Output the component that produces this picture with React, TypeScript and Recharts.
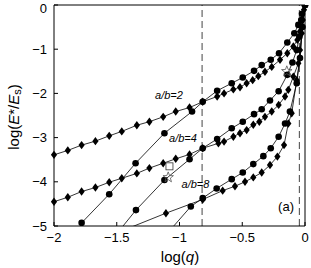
import { ComposedChart, Line, Scatter, XAxis, YAxis, ReferenceLine, ReferenceDot } from 'recharts'

const FONT = '"Liberation Sans", Arial, Helvetica, sans-serif'

const xTicks = [-2, -1.5, -1, -0.5, 0]
const yTicks = [-5, -4, -3, -2, -1, 0]
const dashedAt = [-0.82, -0.045]

// a/b=2
const d2X = [-2.0, -1.89, -1.78, -1.67, -1.56, -1.46, -1.34, -1.24, -1.13, -1.03, -0.92, -0.815, -0.7, -0.645, -0.571, -0.518, -0.465, -0.417, -0.372, -0.319, -0.265, -0.199, -0.141, -0.093, -0.061, -0.04, -0.024, -0.008, 0]
const d2Y = [-3.39, -3.29, -3.17, -3.08, -2.96, -2.86, -2.72, -2.64, -2.53, -2.41, -2.32, -2.19, -2.07, -2.0, -1.91, -1.86, -1.77, -1.7, -1.61, -1.51, -1.4, -1.24, -1.09, -0.94, -0.79, -0.6, -0.34, -0.11, 0]
const c2X = [-1.78, -1.56, -1.35, -1.12, -0.9, -0.815, -0.7, -0.584, -0.496, -0.406, -0.345, -0.273, -0.207, -0.141, -0.085, -0.053, -0.024, 0]
const c2Y = [-4.93, -4.28, -3.58, -2.9, -2.41, -2.19, -1.94, -1.77, -1.64, -1.49, -1.36, -1.24, -1.09, -0.85, -0.64, -0.45, -0.2, 0]

// a/b=4
const d4X = [-2.0, -1.89, -1.78, -1.67, -1.56, -1.46, -1.34, -1.24, -1.13, -1.03, -0.92, -0.815, -0.69, -0.645, -0.571, -0.518, -0.465, -0.412, -0.364, -0.319, -0.265, -0.21, -0.159, -0.133, -0.093, -0.053, -0.04, -0.026, -0.018, 0]
const d4Y = [-4.45, -4.35, -4.22, -4.13, -4.01, -3.92, -3.81, -3.69, -3.58, -3.48, -3.38, -3.24, -3.13, -3.09, -2.98, -2.9, -2.83, -2.71, -2.64, -2.53, -2.41, -2.26, -2.07, -1.92, -1.62, -1.32, -1.02, -0.64, -0.34, 0]
const c4X = [-1.57, -1.347, -1.12, -0.92, -0.815, -0.7, -0.584, -0.496, -0.406, -0.345, -0.279, -0.21, -0.141, -0.1, -0.066, -0.045, -0.03, 0]
const c4Y = [-5.42, -4.64, -3.96, -3.49, -3.24, -3.03, -2.79, -2.64, -2.47, -2.36, -2.16, -1.95, -1.58, -1.3, -1.02, -0.72, -0.34, 0]

// a/b=8
const d8X = [-1.45, -1.108, -0.815, -0.656, -0.558, -0.478, -0.412, -0.345, -0.279, -0.22, -0.167, -0.133, -0.106, -0.066, -0.04, -0.02, 0]
const d8Y = [-5.1, -4.71, -4.4, -4.2, -4.1, -4.0, -3.9, -3.79, -3.62, -3.43, -3.17, -2.68, -2.45, -1.7, -1.2, -0.5, 0]
const c8X = [-1.12, -0.91, -0.815, -0.704, -0.584, -0.496, -0.412, -0.332, -0.273, -0.21, -0.159, -0.12, -0.066, -0.04, -0.02, 0]
const c8Y = [-5.24, -4.56, -4.37, -4.15, -3.94, -3.79, -3.6, -3.42, -3.24, -2.98, -2.68, -2.41, -1.77, -1.2, -0.5, 0]

// extra symbols
const starX = [-1.09, -0.145]
const starY = [-3.9, -1.5]
const squareX = [-1.08]
const squareY = [-3.65]

const labels = [
  { text: 'a/b=2', x: -1.084, y: -2.04 },
  { text: 'a/b=4', x: -0.972, y: -3.02 },
  { text: 'a/b=8', x: -0.873, y: -4.05 },
]

const pts = (xs: number[], ys: number[]) => xs.map((x, i) => ({ x, y: ys[i] }))

const fmt = (v: number) => String(v).replace('-', '\u2212')

const Circle = (p: any) =>
  p.cx == null ? null : <circle key={p.key} cx={p.cx} cy={p.cy} r={3.3} fill="#000" />

const Diamond = (p: any) =>
  p.cx == null ? null : (
    <polygon
      key={p.key}
      points={`${p.cx},${p.cy - 4.2} ${p.cx + 3.1},${p.cy} ${p.cx},${p.cy + 4.2} ${p.cx - 3.1},${p.cy}`}
      fill="#000"
    />
  )

const Star = (p: any) => {
  const r1 = 5.5
  const r2 = 2.3
  let s = ''
  for (let i = 0; i < 10; i++) {
    const r = i % 2 === 0 ? r1 : r2
    const a = -Math.PI / 2 + (i * Math.PI) / 5
    s += `${p.cx + r * Math.cos(a)},${p.cy + r * Math.sin(a)} `
  }
  return <polygon points={s} fill="none" stroke="#555" strokeWidth={0.8} />
}

const Square = (p: any) => (
  <rect x={p.cx - 3.5} y={p.cy - 3.5} width={7} height={7} fill="#fff" stroke="#333" strokeWidth={0.8} />
)

const series = [
  { key: 'd2', data: pts(d2X, d2Y), dot: Diamond },
  { key: 'c2', data: pts(c2X, c2Y), dot: Circle },
  { key: 'd4', data: pts(d4X, d4Y), dot: Diamond },
  { key: 'c4', data: pts(c4X, c4Y), dot: Circle },
  { key: 'd8', data: pts(d8X, d8Y), dot: Diamond },
  { key: 'c8', data: pts(c8X, c8Y), dot: Circle },
]

const tickStyle = { fill: '#000', fontSize: 13, fontFamily: FONT }

export default function App() {
  return (
    <div style={{ position: 'absolute', left: 0, top: 0, background: '#fff' }}>
      <ComposedChart width={311} height={268} margin={{ top: 0, right: 0, bottom: 0, left: 0 }}>
        <XAxis
          xAxisId={0}
          type="number"
          dataKey="x"
          domain={[-2, 0]}
          ticks={xTicks}
          tickFormatter={fmt}
          height={42}
          tickSize={-4}
          tickMargin={11}
          stroke="#000"
          tick={tickStyle}
          label={{
            position: 'insideBottom',
            content: () => (
              <text x={180} y={262} textAnchor="middle" fontSize={15} fontFamily={FONT} fill="#000">
                log(<tspan fontStyle="italic">q</tspan>)
              </text>
            ),
          }}
        />
        <XAxis
          xAxisId="top"
          orientation="top"
          type="number"
          dataKey="x"
          domain={[-2, 0]}
          ticks={xTicks}
          height={5}
          tickSize={-4}
          tick={false}
          stroke="#000"
        />
        <YAxis
          yAxisId={0}
          type="number"
          domain={[-5, 0]}
          ticks={yTicks}
          allowDataOverflow
          tickFormatter={fmt}
          width={54}
          tickSize={-4}
          tickMargin={11}
          stroke="#000"
          tick={tickStyle}
          label={{
            position: 'insideLeft',
            content: () => (
              <text
                x={13}
                y={117}
                transform="rotate(-90 13 117)"
                textAnchor="middle"
                dominantBaseline="central"
                fontSize={15}
                fontFamily={FONT}
                fill="#000"
              >
                log(<tspan fontStyle="italic">E</tspan>*/<tspan fontStyle="italic">E</tspan>
                <tspan fontSize={11} dy={4}>s</tspan>
                <tspan dy={-4}>)</tspan>
              </text>
            ),
          }}
        />
        <YAxis
          yAxisId="right"
          orientation="right"
          type="number"
          domain={[-5, 0]}
          ticks={yTicks}
          width={6}
          tickSize={-4}
          tick={false}
          stroke="#000"
        />
        {dashedAt.map((x) => (
          <ReferenceLine key={x} x={x} stroke="#444" strokeWidth={1} strokeDasharray="7 4" />
        ))}
        {series.map((s) => (
          <Line
            key={s.key}
            data={s.data}
            dataKey="y"
            type="linear"
            stroke="#000"
            strokeWidth={0.8}
            dot={s.dot}
            activeDot={false}
            isAnimationActive={false}
          />
        ))}
        <Scatter data={pts(squareX, squareY)} dataKey="y" shape={Square} isAnimationActive={false} />
        <Scatter data={pts(starX, starY)} dataKey="y" shape={Star} isAnimationActive={false} />
        {labels.map((l) => (
          <ReferenceDot
            key={l.text}
            x={l.x}
            y={l.y}
            r={0}
            fill="none"
            stroke="none"
            label={{
              content: (props: any) => {
                const vb = props.viewBox || {}
                return (
                  <text
                    x={vb.x + (vb.width || 0) / 2}
                    y={vb.y + (vb.height || 0) / 2}
                    textAnchor="middle"
                    dominantBaseline="central"
                    fontSize={11}
                    fontStyle="italic"
                    fontFamily={FONT}
                    fill="#000"
                  >
                    {l.text}
                  </text>
                )
              },
            }}
          />
        ))}
        <ReferenceDot
          x={-0.151}
          y={-4.57}
          r={0}
          fill="none"
          stroke="none"
          label={{
            content: (props: any) => {
              const vb = props.viewBox || {}
              return (
                <text
                  x={vb.x + (vb.width || 0) / 2}
                  y={vb.y + (vb.height || 0) / 2}
                  textAnchor="middle"
                  dominantBaseline="central"
                  fontSize={13}
                  fontFamily={FONT}
                  fill="#000"
                >
                  (a)
                </text>
              )
            },
          }}
        />
      </ComposedChart>
    </div>
  )
}
